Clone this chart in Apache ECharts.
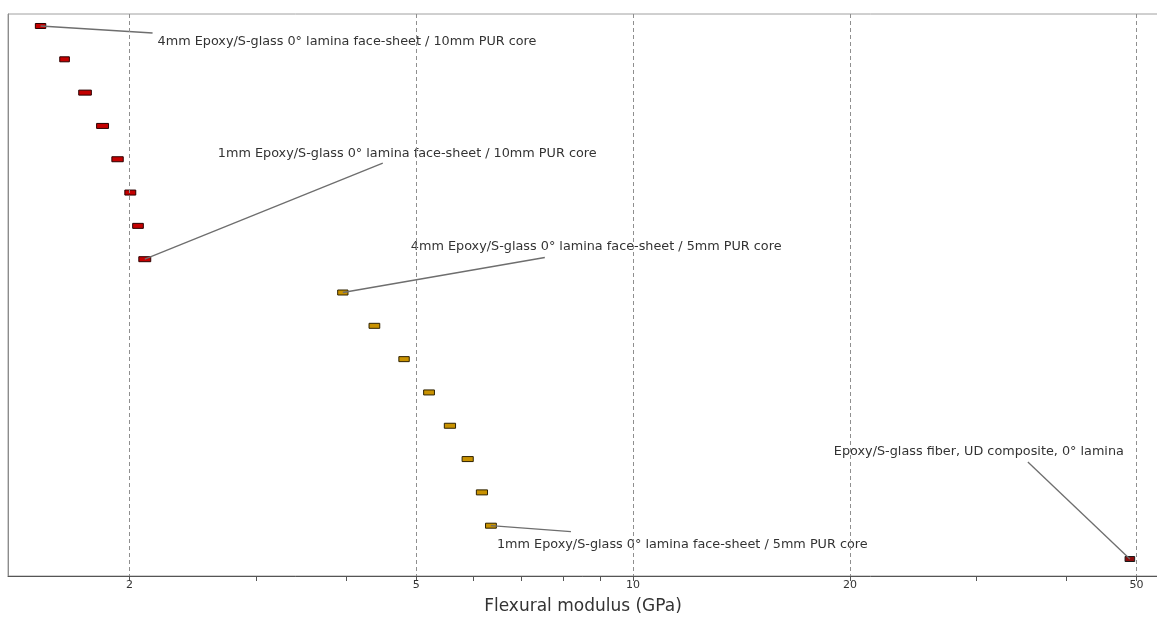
<!DOCTYPE html>
<html>
<head>
<meta charset="utf-8">
<title>Flexural modulus</title>
<script src="https://cdn.jsdelivr.net/npm/echarts@6/dist/echarts.min.js"></script>
<style>
  html, body { margin: 0; padding: 0; background: #ffffff; }
  #chart { width: 1157px; height: 623px; }
</style>
</head>
<body>
<div id="chart"></div>
<script>
// Axis ticks (GPa, log scale)
const majorTicks = [2, 5, 10, 20, 50];
const minorTicks = [3, 4, 6, 7, 8, 9, 30, 40];

// Flexural modulus ranges [low, high] in GPa, one row each
const redRanges = [
  [1.48, 1.53], [1.60, 1.65], [1.70, 1.77], [1.80, 1.87],
  [1.89, 1.96], [1.97, 2.04], [2.02, 2.09], [2.06, 2.14]
];
const goldRanges = [
  [3.89, 4.02], [4.30, 4.45], [4.73, 4.89], [5.12, 5.30],
  [5.47, 5.67], [5.79, 6.00], [6.06, 6.28], [6.24, 6.46]
];
const fiberRanges = [
  [48.2, 49.7]
];

// Annotations: text and the row each one points at
const labelTexts = [
  '4mm Epoxy/S-glass 0° lamina face-sheet / 10mm PUR core',
  '1mm Epoxy/S-glass 0° lamina face-sheet / 10mm PUR core',
  '4mm Epoxy/S-glass 0° lamina face-sheet / 5mm PUR core',
  '1mm Epoxy/S-glass 0° lamina face-sheet / 5mm PUR core',
  'Epoxy/S-glass fiber, UD composite, 0° lamina'
];
const labelRows = [0, 7, 8, 15, 16];

// Leader line end and text start, in pixels relative to the bar centre
const labelPlacement = [
  { line: [112, 7],    text: [117, 16] },
  { line: [238, -96],  text: [73, -106] },
  { line: [202, -35],  text: [68, -46] },
  { line: [80, 6],     text: [6, 19] },
  { line: [-102, -97], text: [-296, -107] }
];

const FONT = '"DejaVu Sans", Verdana, sans-serif';

function toRows(ranges, start) {
  return ranges.map(function (r, i) { return [r[0], r[1], start + i]; });
}
const redData = toRows(redRanges, 0);
const goldData = toRows(goldRanges, redRanges.length);
const fiberData = toRows(fiberRanges, redRanges.length + goldRanges.length);
const allRows = redData.concat(goldData, fiberData);

const labelData = labelRows.map(function (row, i) {
  const r = allRows[row];
  return [Math.sqrt(r[0] * r[1]), row, i];
});

function barRenderer(fill, stroke) {
  return function (params, api) {
    const lo = api.coord([api.value(0), api.value(2)]);
    const hi = api.coord([api.value(1), api.value(2)]);
    return {
      type: 'rect',
      shape: { x: lo[0], y: lo[1] - 2.5, width: Math.max(hi[0] - lo[0], 2), height: 5 },
      style: { fill: fill, stroke: stroke, lineWidth: 1 }
    };
  };
}

function renderLabel(params, api) {
  const p = api.coord([api.value(0), api.value(1)]);
  const idx = api.value(2);
  const pl = labelPlacement[idx];
  return {
    type: 'group',
    children: [
      {
        type: 'line',
        shape: { x1: p[0], y1: p[1], x2: p[0] + pl.line[0], y2: p[1] + pl.line[1] },
        style: { stroke: '#6e6e6e', lineWidth: 1.3 }
      },
      {
        type: 'text',
        x: p[0] + pl.text[0],
        y: p[1] + pl.text[1],
        style: {
          text: labelTexts[idx],
          fill: '#333333',
          fontSize: 12.8,
          fontFamily: FONT,
          align: 'left',
          verticalAlign: 'middle'
        }
      }
    ]
  };
}

const chart = echarts.init(document.getElementById('chart'), null, { renderer: 'canvas' });

chart.setOption({
  animation: false,
  backgroundColor: '#ffffff',
  grid: {
    left: 8, right: -1, top: 14, bottom: 47,
    containLabel: false,
    outerBoundsMode: 'none',
    show: true,
    borderColor: '#a0a0a0',
    borderWidth: 1
  },
  xAxis: {
    type: 'log',
    logBase: 10,
    min: 1.356,
    max: 53.55,
    name: 'Flexural modulus (GPa)',
    nameLocation: 'middle',
    nameGap: 22,
    nameTextStyle: { fontSize: 17, color: '#333333', fontFamily: FONT },
    axisLine: { show: true, onZero: false, lineStyle: { color: '#555555', width: 1 } },
    axisTick: {
      show: true,
      inside: false,
      length: 5,
      customValues: majorTicks.concat(minorTicks),
      lineStyle: { color: '#555555' }
    },
    axisLabel: {
      show: true,
      customValues: majorTicks,
      margin: 4,
      fontSize: 11,
      color: '#333333',
      fontFamily: FONT,
      formatter: function (v) { return String(Math.round(v)); }
    },
    splitLine: { show: false },
    minorTick: { show: false },
    minorSplitLine: { show: false }
  },
  yAxis: {
    type: 'value',
    inverse: true,
    min: -0.36,
    max: 16.51,
    axisLine: { show: true, onZero: false, lineStyle: { color: '#8c8c8c' } },
    axisTick: { show: false },
    axisLabel: { show: false },
    splitLine: { show: false }
  },
  series: [
    {
      // dashed grid lines at the labelled values
      type: 'scatter',
      data: [],
      z: 1,
      silent: true,
      markLine: {
        silent: true,
        symbol: ['none', 'none'],
        label: { show: false },
        lineStyle: { type: [4, 3], color: '#8f8f8f', width: 1 },
        data: majorTicks.map(function (v) { return { xAxis: v }; })
      }
    },
    {
      type: 'custom',
      name: '10mm PUR core',
      z: 3,
      renderItem: barRenderer('#c40000', '#2a0000'),
      encode: { x: [0, 1], y: 2 },
      data: redData
    },
    {
      type: 'custom',
      name: '5mm PUR core',
      z: 3,
      renderItem: barRenderer('#c99200', '#2e2200'),
      encode: { x: [0, 1], y: 2 },
      data: goldData
    },
    {
      type: 'custom',
      name: 'UD composite',
      z: 3,
      renderItem: barRenderer('#8a0c0c', '#1a1a1a'),
      encode: { x: [0, 1], y: 2 },
      data: fiberData
    },
    {
      type: 'custom',
      name: 'labels',
      z: 4,
      silent: true,
      renderItem: renderLabel,
      encode: { x: 0, y: 1 },
      data: labelData
    }
  ]
});
</script>
</body>
</html>
